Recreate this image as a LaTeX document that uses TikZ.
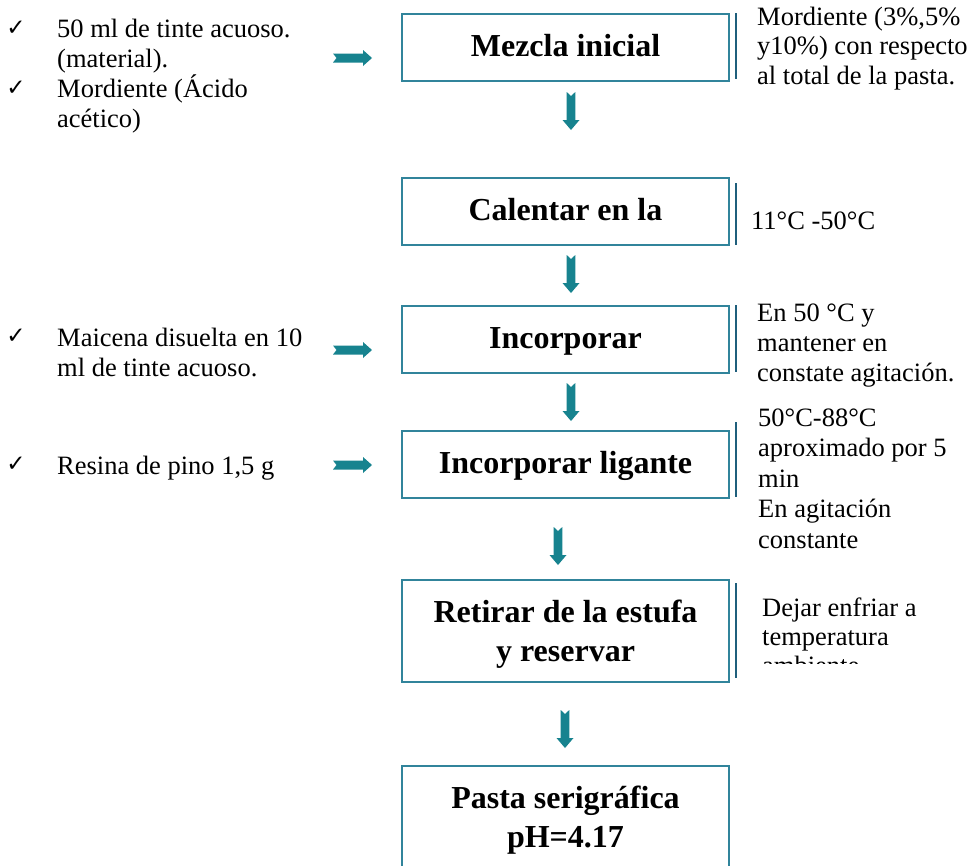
\documentclass[tikz,border=0pt]{standalone}
\usepackage{fontspec}
\setmainfont{Liberation Serif}
\newfontfamily\symfont{DejaVu Sans}
\definecolor{boxteal}{HTML}{31849B}
\definecolor{arrowteal}{HTML}{17838F}
\definecolor{bracketteal}{HTML}{1F5F7C}
\begin{document}
\begin{tikzpicture}[x=1pt,y=-1pt,
  stepbox/.style={draw=boxteal,line width=2.4pt,minimum width=327pt,minimum height=67pt,
    inner sep=0pt,font=\fontsize{32}{39}\selectfont\bfseries,align=center},
  onebox/.style={stepbox,text height=22pt,text depth=4pt},
  twobox/.style={stepbox,minimum height=102pt,text depth=0pt},
  % multi-line notes are anchored at the baseline of their last line
  note/.style={inner sep=0pt,anchor=base west,align=left,font=\fontsize{26.5}{30}\selectfont},
  tick/.style={inner sep=0pt,font=\symfont\fontsize{23}{23}\selectfont},
  bracket/.style={draw=bracketteal,line width=2.6pt},
  downarrow/.pic={\fill[arrowteal] (-4.3,0) -- (0,4) -- (4.3,0) -- (4.3,28) -- (8.5,28)
    -- (0,38) -- (-8.5,28) -- (-4.3,28) -- cycle;},
  rightarrow/.pic={\fill[arrowteal] (0,-4.5) -- (30,-4.5) -- (30,-8) -- (39,0) -- (30,8)
    -- (30,4.5) -- (0,4.5) -- (3.5,0) -- cycle;}
]
\useasboundingbox (0,0) rectangle (974,865);
\clip (0,0) rectangle (974,865);

% process steps
\node[onebox] (b1) at (565.5,47.5) {Mezcla inicial};
\node[onebox] (b2) at (565.5,211.5) {Calentar en la};
\node[onebox] (b3) at (565.5,339.5) {Incorporar};
\node[onebox] (b4) at (565.5,464.5) {Incorporar ligante};
\node[twobox] (b5) at (565.5,631) {Retirar de la estufa\\y reservar};
\node[twobox] (b6) at (565.5,817) {Pasta serigráfica\\pH=4.17};

% flow arrows between steps
\pic at (571,92) {downarrow};
\pic at (571,255) {downarrow};
\pic at (571,383) {downarrow};
\pic at (558,527) {downarrow};
\pic at (565,710) {downarrow};

% inputs entering from the left
\pic at (333,58) {rightarrow};
\pic at (333,350) {rightarrow};
\pic at (333,465) {rightarrow};

% ingredient lists
\node[tick] (t1) at (16,28) {✓};
\node[note] (i1) at (57,67) {50 ml de tinte acuoso.\\(material).};
\node[tick] (t2) at (16,88) {✓};
\node[note] (i2) at (57,127) {Mordiente (Ácido\\acético)};
\node[tick] (t3) at (16,336) {✓};
\node[note] (i3) at (57,376) {Maicena disuelta en 10\\ml de tinte acuoso.};
\node[tick] (t4) at (16,464) {✓};
\node[note] (i4) at (57,474) {Resina de pino 1,5 g};

% side notes with their brackets
\draw[bracket] (736,13) -- (736,79);
\node[note,font=\fontsize{26.5}{29.5}\selectfont] (n1) at (757,84) {Mordiente (3\%,5\%\\y10\%) con respecto\\al total de la pasta.};
\draw[bracket] (736,183) -- (736,245);
\node[note] (n2) at (751,229) {11°C -50°C};
\draw[bracket] (736,305) -- (736,372);
\node[note] (n3) at (757,381) {En 50 °C y\\mantener en\\constate agitación.};
\draw[bracket] (736,422) -- (736,497);
\node[note,font=\fontsize{26.5}{30.5}\selectfont] (n4) at (758,548) {50°C-88°C\\aproximado por 5\\min\\En agitación\\constante};
\draw[bracket] (736,583) -- (736,678);
\begin{scope}
  \clip (740,570) rectangle (974,663);
  \node[note,font=\fontsize{26.5}{29}\selectfont] (n5) at (762,674) {Dejar enfriar a\\temperatura\\ambiente};
\end{scope}
\end{tikzpicture}
\end{document}
